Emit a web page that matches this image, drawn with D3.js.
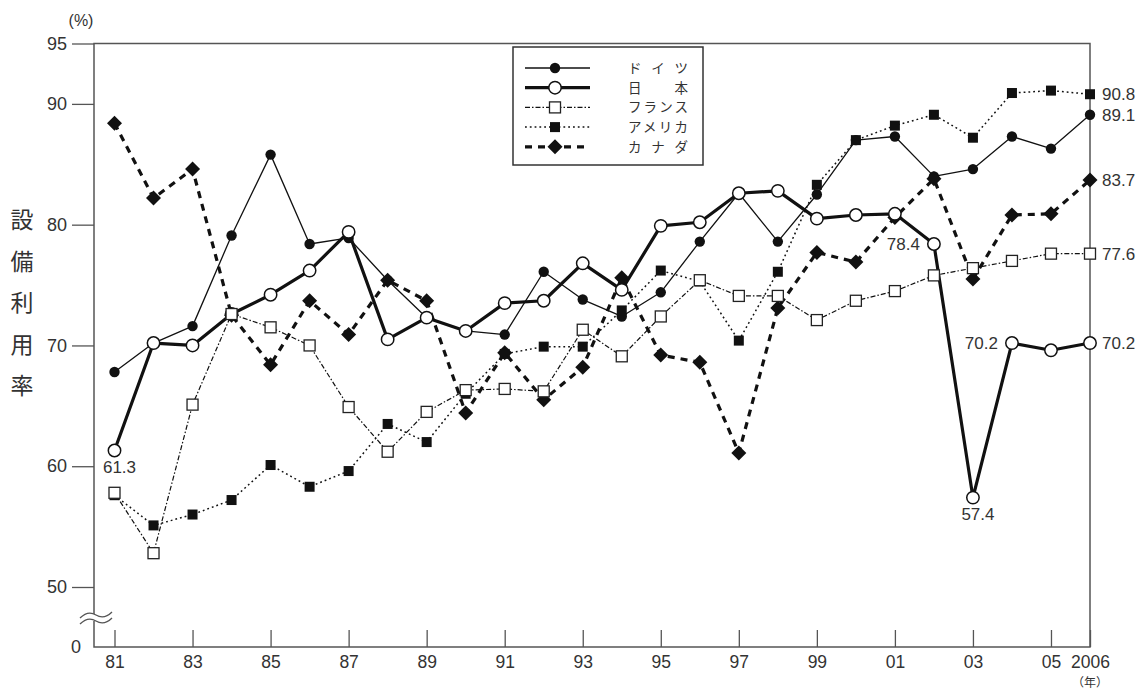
<!DOCTYPE html>
<html>
<head>
<meta charset="utf-8">
<script src="https://cdn.jsdelivr.net/npm/d3@7"></script>
<style>
  body { margin: 0; background: #fff; }
  text { font-family: "Liberation Sans", Arial, sans-serif; fill: #333; }
  .jp { font-family: "Noto Sans CJK JP", sans-serif; }
</style>
</head>
<body>
<div id="chart"></div>
<script>
const years = [1981, 1982, 1983, 1984, 1985, 1986, 1987, 1988, 1989, 1990, 1991, 1992, 1993,
  1994, 1995, 1996, 1997, 1998, 1999, 2000, 2001, 2002, 2003, 2004, 2005, 2006];
const germany = [67.8, 70.2, 71.6, 79.1, 85.8, 78.4, 78.9, 75.4, 72.3, 71.2, 70.9, 76.1, 73.8,
  72.4, 74.4, 78.6, 82.6, 78.6, 82.5, 87.0, 87.3, 84.0, 84.6, 87.3, 86.3, 89.1];
const japan = [61.3, 70.2, 70.0, 72.6, 74.2, 76.2, 79.4, 70.5, 72.3, 71.2, 73.5, 73.7, 76.8,
  74.6, 79.9, 80.2, 82.6, 82.8, 80.5, 80.8, 80.9, 78.4, 57.4, 70.2, 69.6, 70.2];
const france = [57.8, 52.8, 65.1, 72.6, 71.5, 70.0, 64.9, 61.2, 64.5, 66.3, 66.4, 66.2, 71.3,
  69.1, 72.4, 75.4, 74.1, 74.1, 72.1, 73.7, 74.5, 75.8, 76.4, 77.0, 77.6, 77.6];
const usa = [57.6, 55.1, 56.0, 57.2, 60.1, 58.3, 59.6, 63.5, 62.0, 66.0, 69.3, 69.9, 69.9,
  72.9, 76.2, 75.3, 70.4, 76.1, 83.3, 87.0, 88.2, 89.1, 87.2, 90.9, 91.1, 90.8];
const canada = [88.4, 82.2, 84.6, 72.5, 68.4, 73.7, 70.9, 75.4, 73.7, 64.4, 69.4, 65.5, 68.2,
  75.6, 69.2, 68.6, 61.1, 73.1, 77.7, 76.9, 80.6, 83.8, 75.5, 80.8, 80.9, 83.7];

const yTicks = [50, 60, 70, 80, 90, 95];
const xTicks = [1981, 1983, 1985, 1987, 1989, 1991, 1993, 1995, 1997, 1999, 2001, 2003, 2005, 2006];
const legendNames = ["ドイツ", "日本", "フランス", "アメリカ", "カナダ"];
// value labels: year, value, where the text sits
const labelYears = [1981, 2003, 2002, 2004, 2006, 2006, 2006, 2006, 2006];
const labelValues = [61.3, 57.4, 78.4, 70.2, 90.8, 89.1, 83.7, 77.6, 70.2];
const labelSides = ["below", "below", "left", "left", "right", "right", "right", "right", "right"];

const W = 1137, H = 689;
const plotLeft = 94, plotBottom = 647, plotTop = 43.5, plotRight = 1090;

const svg = d3.select("#chart").append("svg")
  .attr("width", W).attr("height", H);

const x = d3.scaleLinear().domain([1981, 2006]).range([114.5, plotRight]);
const y = d3.scaleLinear().domain([50, 95]).range([587, plotTop]);

const styles = {
  "ドイツ": { data: germany, width: 1.3, dash: null, marker: "dot" },
  "日本": { data: japan, width: 3.2, dash: null, marker: "ring" },
  "フランス": { data: france, width: 1.2, dash: "5,2,1.5,2", marker: "box" },
  "アメリカ": { data: usa, width: 1.5, dash: "1.8,3", marker: "sq" },
  "カナダ": { data: canada, width: 3.2, dash: "7,6", marker: "diamond" }
};

function marker(g, type, cx, cy) {
  if (type === "dot") {
    g.append("circle").attr("cx", cx).attr("cy", cy).attr("r", 5.2).attr("fill", "#111");
  } else if (type === "ring") {
    g.append("circle").attr("cx", cx).attr("cy", cy).attr("r", 6.2)
      .attr("fill", "#fff").attr("stroke", "#111").attr("stroke-width", 1.5);
  } else if (type === "box") {
    g.append("rect").attr("x", cx - 5.5).attr("y", cy - 5.5).attr("width", 11).attr("height", 11)
      .attr("fill", "#fff").attr("stroke", "#222").attr("stroke-width", 1.3);
  } else if (type === "sq") {
    g.append("rect").attr("x", cx - 5).attr("y", cy - 5).attr("width", 10).attr("height", 10)
      .attr("fill", "#111");
  } else {
    g.append("path").attr("d", `M${cx},${cy - 7.5}L${cx + 7.5},${cy}L${cx},${cy + 7.5}L${cx - 7.5},${cy}Z`)
      .attr("fill", "#111");
  }
}

// frame
svg.append("path")
  .attr("d", `M${plotLeft},${plotTop}H${plotRight}V${plotBottom}H${plotLeft}Z`)
  .attr("fill", "none").attr("stroke", "#555").attr("stroke-width", 1.5);

// y axis
const yAxis = svg.append("g")
  .attr("transform", `translate(${plotLeft},0)`)
  .call(d3.axisLeft(y).tickValues(yTicks).tickSize(22).tickPadding(5));
yAxis.select(".domain").remove();
yAxis.selectAll("line").attr("stroke", "#555").attr("stroke-width", 1.3);
yAxis.selectAll("text").style("font-size", "18px").attr("fill", "#333");
svg.append("text").attr("x", 81).attr("y", plotBottom).attr("dy", "0.35em")
  .attr("text-anchor", "end").style("font-size", "18px").text("0");

// x axis
const xAxis = svg.append("g")
  .attr("transform", `translate(0,${plotBottom})`)
  .call(d3.axisBottom(x).tickValues(xTicks).tickSize(-17).tickPadding(9)
    .tickFormat(d => d === 2006 ? "2006" : String(d % 100).padStart(2, "0")));
xAxis.select(".domain").remove();
xAxis.selectAll("line").attr("stroke", "#555").attr("stroke-width", 1.3);
xAxis.selectAll("text").style("font-size", "17.5px").attr("fill", "#333");

// axis break
svg.append("rect").attr("x", 86).attr("y", 614).attr("width", 16).attr("height", 7).attr("fill", "#fff");
["M80,618 Q88,610 96,615 T112,612", "M80,624 Q88,616 96,621 T112,618"].forEach(d => {
  svg.append("path").attr("d", d).attr("fill", "none").attr("stroke", "#555").attr("stroke-width", 1.3);
});

// unit labels
svg.append("text").attr("x", 81).attr("y", 26).attr("text-anchor", "middle")
  .style("font-size", "16px").text("(%)");
svg.append("text").attr("class", "jp").attr("x", 1090).attr("y", 687).attr("text-anchor", "middle")
  .style("font-size", "12px").text("（年）");
"設備利用率".split("").forEach((ch, i) => {
  svg.append("text").attr("class", "jp").attr("x", 22).attr("y", 220 + i * 41.5)
    .attr("dy", "0.36em").attr("text-anchor", "middle").style("font-size", "23px").text(ch);
});

// lines
const lineGen = d3.line().x((d, i) => x(years[i])).y(d => y(d));
legendNames.forEach(name => {
  const s = styles[name];
  svg.append("path").datum(s.data)
    .attr("d", lineGen)
    .attr("fill", "none").attr("stroke", "#111")
    .attr("stroke-width", s.width)
    .attr("stroke-dasharray", s.dash)
    .attr("stroke-linejoin", "round");
});

// markers
const markerOrder = ["ドイツ", "カナダ", "アメリカ", "日本", "フランス"];
const mg = svg.append("g");
markerOrder.forEach(name => {
  const s = styles[name];
  s.data.forEach((v, i) => marker(mg, s.marker, x(years[i]), y(v)));
});

// value labels
labelYears.forEach((yr, i) => {
  const v = labelValues[i];
  const t = svg.append("text").style("font-size", "17px").attr("dy", "0.36em").text(v.toFixed(1));
  if (labelSides[i] === "below") {
    t.attr("x", x(yr) + 5).attr("y", y(v) + 16).attr("text-anchor", "middle");
  } else if (labelSides[i] === "left") {
    t.attr("x", x(yr) - 14).attr("y", y(v)).attr("text-anchor", "end");
  } else {
    t.attr("x", x(yr) + 12).attr("y", y(v)).attr("text-anchor", "start");
  }
});

// legend
const lg = svg.append("g");
lg.append("rect").attr("x", 513).attr("y", 47).attr("width", 190).attr("height", 118)
  .attr("fill", "#fff").attr("stroke", "#333").attr("stroke-width", 1.5);
legendNames.forEach((name, i) => {
  const s = styles[name];
  const ry = 68 + i * 19.7;
  lg.append("line").attr("x1", 525).attr("x2", 590).attr("y1", ry).attr("y2", ry)
    .attr("stroke", "#111").attr("stroke-width", s.width).attr("stroke-dasharray", s.dash);
  marker(lg, s.marker, 555, ry);
  lg.append("text").attr("class", "jp").attr("x", 628).attr("y", ry).attr("dy", "0.36em")
    .attr("textLength", 60).attr("lengthAdjust", "spacing")
    .style("font-size", "13.5px").text(name);
});
</script>
</body>
</html>
